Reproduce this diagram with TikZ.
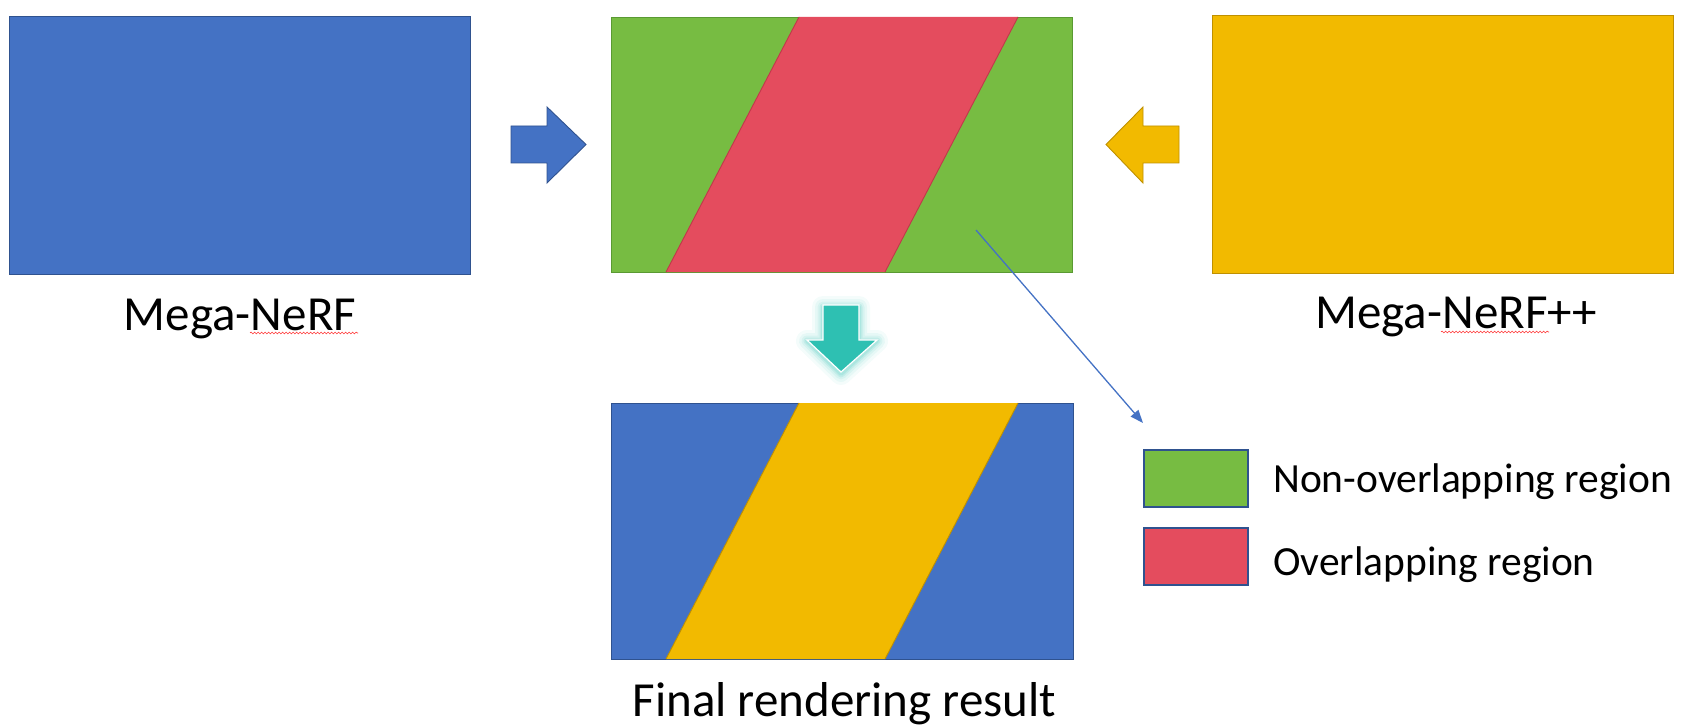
\documentclass[tikz,border=0pt]{standalone}
\usepackage{fontspec}
\setmainfont{Carlito}
\usetikzlibrary{arrows.meta,decorations.pathmorphing}
\definecolor{cblue}{HTML}{4472C4}
\definecolor{cblueedge}{HTML}{2F528F}
\definecolor{cyellow}{HTML}{F2BA00}
\definecolor{cyellowedge}{HTML}{BF9000}
\definecolor{cgreen}{HTML}{77BC42}
\definecolor{cgreenedge}{HTML}{5A9A32}
\definecolor{cred}{HTML}{E44C5E}
\definecolor{crededge}{HTML}{C0394A}
\definecolor{cteal}{HTML}{2EC0B2}
\begin{document}
\begin{tikzpicture}[x=1pt,y=-1pt,
  panel/.style={rectangle, inner sep=0pt, outer sep=0pt, line width=0.8pt},
  legbox/.style={rectangle, inner sep=0pt, outer sep=0pt, line width=1.6pt, draw=cblueedge,
    minimum width=104pt, minimum height=57pt},
  biglabel/.style={inner sep=0pt, font=\fontsize{49pt}{58pt}\selectfont},
  leglabel/.style={inner sep=0pt, anchor=base west, font=\fontsize{41.5pt}{50pt}\selectfont},
  blockarrow/.style={line width=0.9pt, line join=miter},
  pointer/.style={draw=cblue, line width=1.3pt, -{Triangle[length=13pt,width=10pt]}},
  spell/.style={draw=red!80, line width=0.6pt, decorate,
    decoration={snake, amplitude=0.9pt, segment length=3.5pt}}
]
\useasboundingbox (0,0) rectangle (1693,727);

% left panel: Mega-NeRF
\node[panel, fill=cblue, draw=cblueedge, minimum width=461pt, minimum height=258pt] (mega) at (239.5,145) {};
\node[biglabel, anchor=base] (megalab) at (240,330) {Mega-NeRF};
\draw[spell] (250,333) -- (358,333);

% right panel: Mega-NeRF++
\node[panel, fill=cyellow, draw=cyellowedge, minimum width=461pt, minimum height=258pt] (megapp) at (1442.5,144) {};
\node[biglabel, anchor=base] (megapplab) at (1456,328) {Mega-NeRF++};
\draw[spell] (1441,332) -- (1549,332);

% middle panel: overlap map
\node[panel, fill=cgreen, draw=cgreenedge, minimum width=461pt, minimum height=255pt] (mid) at (841.5,144.5) {};
\fill[cred] (799,17) -- (1018,17) -- (885,272) -- (666,272) -- cycle;
\draw[crededge, line width=0.9pt] (799,17) -- (666,272) (1018,17) -- (885,272);

% bottom panel: final result
\node[panel, fill=cblue, draw=cblueedge, minimum width=462pt, minimum height=256pt] (final) at (842,531) {};
\fill[cyellow] (799,403) -- (1018,403) -- (885,659) -- (666,659) -- cycle;
\draw[cyellowedge, line width=0.9pt] (799,403) -- (666,659) (1018,403) -- (885,659);
\node[biglabel, anchor=base] (finallab) at (844.5,716) {Final rendering result};

% blue block arrow (left -> middle)
\draw[blockarrow, fill=cblue, draw=cblueedge]
  (511,126) -- (547,126) -- (547,107) -- (586,144.5) -- (547,183) -- (547,163) -- (511,163) -- cycle;

% yellow block arrow (right -> middle)
\draw[blockarrow, fill=cyellow, draw=cyellowedge]
  (1179,126) -- (1143,126) -- (1143,107) -- (1106,144.5) -- (1143,183) -- (1143,163) -- (1179,163) -- cycle;

% teal down arrow with glow
\foreach \w/\o in {22/0.05,16/0.07,11/0.09,7/0.12,4/0.15}{
  \draw[cteal, opacity=\o, line width=\w pt, line join=round]
    (823,307) -- (859,307) -- (859,341) -- (877,341) -- (841,374) -- (807,341) -- (823,341) -- cycle;
}
\draw[fill=cteal, draw=white, line width=1.2pt, line join=miter]
  (823,305) -- (859,305) -- (859,340) -- (877,340) -- (841,372) -- (807,340) -- (823,340) -- cycle;

% legend
\node[legbox, fill=cgreen] (leggreen) at (1196,478.5) {};
\node[legbox, fill=cred] (legred) at (1196,556.5) {};
\node[leglabel] (legtxt1) at (1273,492) {Non-overlapping region};
\node[leglabel] (legtxt2) at (1273,575) {Overlapping region};

% pointer from the green region to the legend
\coordinate (src) at (976,230);
\coordinate (dst) at (1143,423);
\draw[pointer] (src) -- (dst);
\end{tikzpicture}
\end{document}
